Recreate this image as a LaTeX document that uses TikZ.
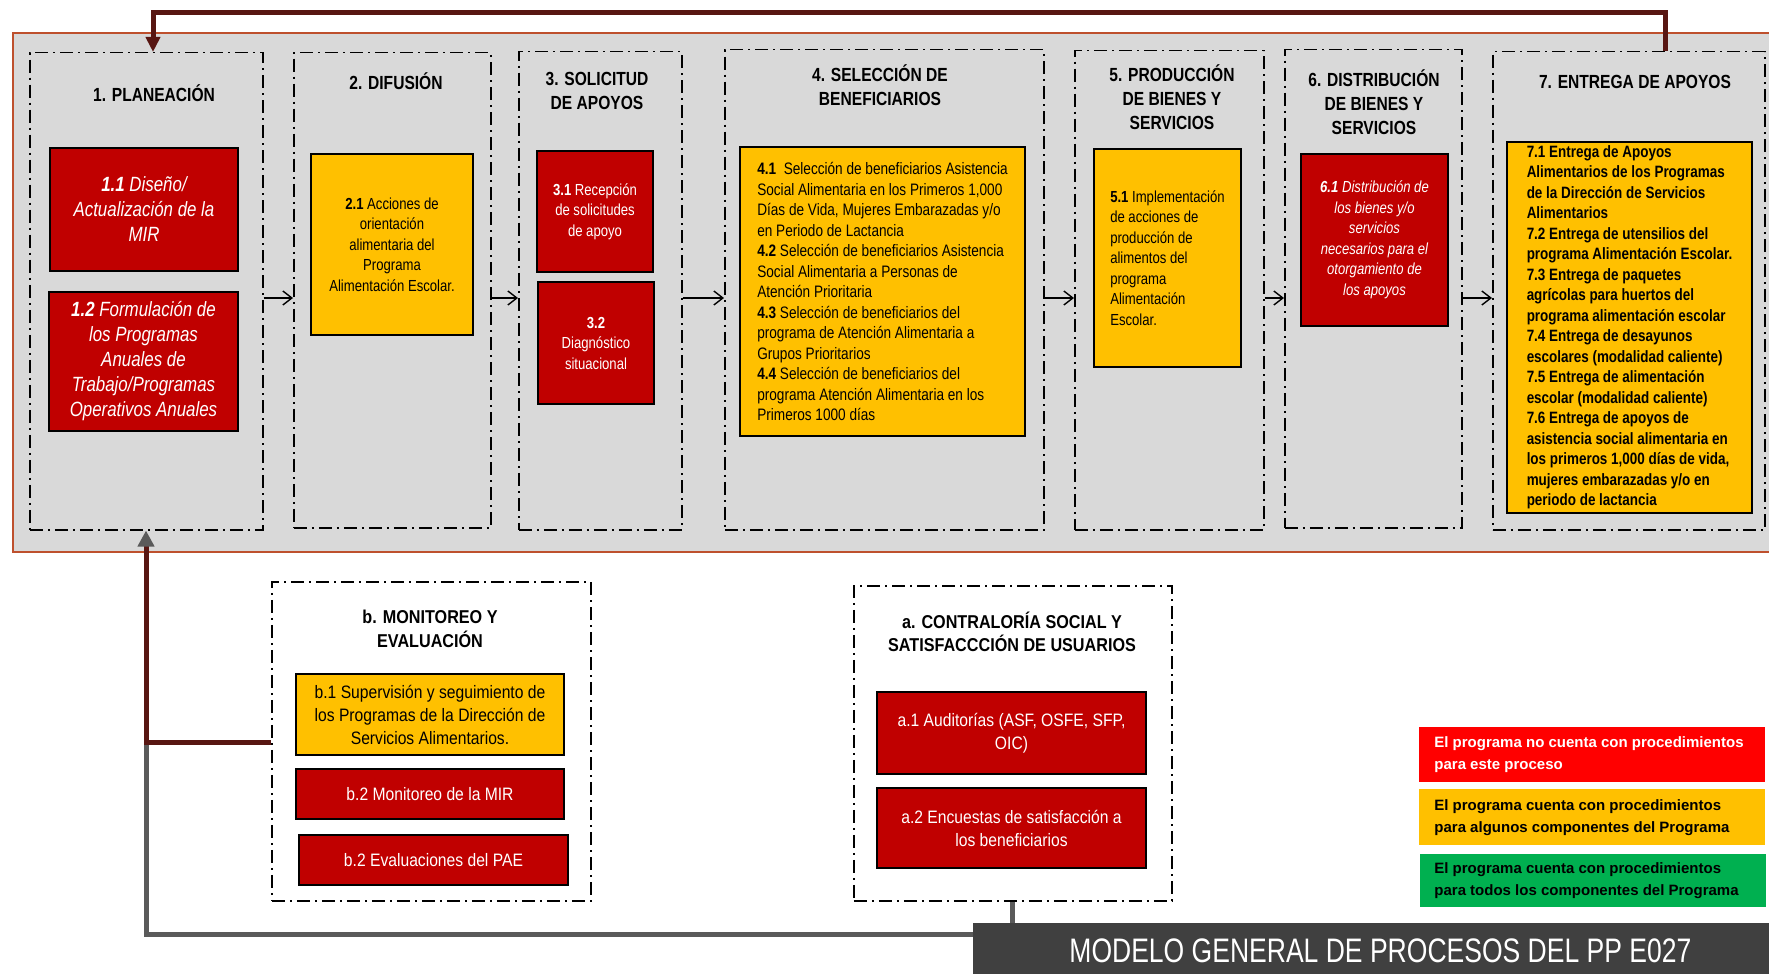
\documentclass[tikz,border=0pt]{standalone}
\usepackage{fontspec}
\setmainfont{Liberation Sans}
\newfontfamily\narrowfont[FakeStretch=0.82]{Liberation Sans}
\newfontfamily\lowfont[FakeStretch=0.87]{Liberation Sans}
\newfontfamily\barfont[FakeStretch=0.78]{Liberation Sans}
\usetikzlibrary{arrows.meta}
\definecolor{bandgrey}{HTML}{D9D9D9}
\definecolor{bandedge}{RGB}{190,80,45}
\definecolor{boxred}{HTML}{C00000}
\definecolor{boxyellow}{HTML}{FFC000}
\definecolor{legred}{HTML}{FF0000}
\definecolor{leggreen}{HTML}{00B050}
\definecolor{bardark}{HTML}{404040}
\definecolor{backred}{RGB}{88,22,18}
\definecolor{backgrey}{RGB}{90,90,90}

\begin{document}
\begin{tikzpicture}[x=0.5pt, y=-0.5pt]
    \tikzset{
        stage/.style={draw, line width=0.75pt, dash pattern=on 6.5pt off 2.5pt on 1pt off 2.5pt, anchor=north west, inner sep=0pt},
        stagetitle/.style={align=center, font=\narrowfont\bfseries\fontsize{9.5}{12}\selectfont},
        lowtitle/.style={align=center, font=\lowfont\bfseries\fontsize{9.3}{11.8}\selectfont},
        redbox/.style={draw, line width=1pt, fill=boxred, text=white, inner sep=0pt},
        yelbox/.style={draw, line width=1pt, fill=boxyellow, inner sep=0pt},
        body/.style={font=\narrowfont\fontsize{8}{10.25}\selectfont},
        bodyit/.style={font=\narrowfont\itshape\fontsize{8}{10.25}\selectfont},
        bodybf/.style={font=\narrowfont\bfseries\fontsize{8.2}{10.25}\selectfont},
        lowbody/.style={align=center, font=\lowfont\fontsize{9}{11.5}\selectfont},
        legbox/.style={anchor=north west, inner sep=0pt, minimum width=173pt},
        legtext/.style={anchor=west, align=left, inner sep=0pt, font=\bfseries\fontsize{7.5}{11.2}\selectfont},
        flow/.style={line width=0.7pt, -{Straight Barb[length=4.5pt, width=7pt]}},
        backline/.style={line width=2.5pt, color=backred},
    }
    \useasboundingbox (0,0) rectangle (1769,974);
    % franja de procesos
    \fill[bandgrey, draw=bandedge, line width=0.8pt] (13,33) rectangle (1790,552);

    % etapas
    \node[stage, minimum width=116.5pt, minimum height=238.5pt] (p1) at (29,52) {};
    \node[stage, minimum width=98.5pt, minimum height=237.5pt] (p2) at (293,52) {};
    \node[stage, minimum width=81.5pt, minimum height=239pt] (p3) at (518,51) {};
    \node[stage, minimum width=159.5pt, minimum height=240pt] (p4) at (724,49) {};
    \node[stage, minimum width=94.5pt, minimum height=239.5pt] (p5) at (1074,50) {};
    \node[stage, minimum width=88.5pt, minimum height=239pt] (p6) at (1284,49) {};
    \node[stage, minimum width=136pt, minimum height=239pt] (p7) at (1492,51) {};
    \node[stage, minimum width=159.5pt, minimum height=159.5pt] (pb) at (271,581) {};
    \node[stage, minimum width=159pt, minimum height=157.5pt] (pa) at (853,585) {};

    \node[stagetitle] (t1) at (154,93) {1. PLANEACIÓN};
    \node[stagetitle] (t2) at (396,81) {2. DIFUSIÓN};
    \node[stagetitle] (t3) at (597,91) {3. SOLICITUD\\DE APOYOS};
    \node[stagetitle] (t4) at (880,85) {4. SELECCIÓN DE\\BENEFICIARIOS};
    \node[stagetitle] (t5) at (1172,97) {5. PRODUCCIÓN\\DE BIENES Y\\SERVICIOS};
    \node[stagetitle] (t6) at (1374,102) {6. DISTRIBUCIÓN\\DE BIENES Y\\SERVICIOS};
    \node[stagetitle] (t7) at (1635,82) {7. ENTREGA DE APOYOS};
    \node[lowtitle] (tb) at (430,629) {b. MONITOREO Y\\EVALUACIÓN};
    \node[lowtitle] (ta) at (1012,632) {a. CONTRALORÍA SOCIAL Y\\SATISFACCCIÓN DE USUARIOS};

    % actividades
    \node[redbox, minimum width=94pt, minimum height=61.5pt, align=center, font=\narrowfont\itshape\fontsize{10.3}{12.5}\selectfont] (a11) at (144,209.5)
        {\textbf{1.1} Diseño/\\Actualización de la\\MIR};
    \node[redbox, minimum width=94.5pt, minimum height=69.5pt, align=center, font=\narrowfont\itshape\fontsize{10.3}{12.5}\selectfont] (a12) at (143.5,361.5)
        {\textbf{1.2} Formulación de\\los Programas\\Anuales de\\Trabajo/Programas\\Operativos Anuales};
    \node[yelbox, minimum width=81pt, minimum height=90.5pt, align=center, body] (d21) at (392,244.5)
        {\textbf{2.1} Acciones de\\orientación\\alimentaria del\\Programa\\Alimentación Escolar.};
    \node[redbox, minimum width=58pt, minimum height=60.5pt, align=center, body] (s31) at (595,211.5)
        {\textbf{3.1} Recepción\\de solicitudes\\de apoyo};
    \node[redbox, minimum width=58pt, minimum height=61pt, align=center, body] (s32) at (596,343)
        {\textbf{3.2}\\Diagnóstico\\situacional};
    \node[yelbox, minimum width=142.5pt, minimum height=144.5pt, align=left, font=\narrowfont\fontsize{8.3}{10.25}\selectfont] (b41) at (882.5,291.5)
        {\textbf{4.1}\ \ Selección de beneficiarios Asistencia\\Social Alimentaria en los Primeros 1,000\\Días de Vida, Mujeres Embarazadas y/o\\en Periodo de Lactancia\\
         \textbf{4.2} Selección de beneficiarios Asistencia\\Social Alimentaria a Personas de\\Atención Prioritaria\\
         \textbf{4.3} Selección de beneficiarios del\\programa de Atención Alimentaria a\\Grupos Prioritarios\\
         \textbf{4.4} Selección de beneficiarios del\\programa Atención Alimentaria en los\\Primeros 1000 días};
    \node[yelbox, minimum width=73.5pt, minimum height=109pt, align=left, body] (r51) at (1167.5,258)
        {\textbf{5.1} Implementación\\de acciones de\\producción de\\alimentos del\\programa\\Alimentación\\Escolar.};
    \node[redbox, minimum width=73.5pt, minimum height=86pt, align=center, bodyit] (d61) at (1374.5,240)
        {\textbf{6.1} Distribución de\\los bienes y/o\\servicios\\necesarios para el\\otorgamiento de\\los apoyos};
    \node[yelbox, minimum width=122.5pt, minimum height=185.5pt, align=left, bodybf] (e71) at (1629.5,327.5)
        {7.1 Entrega de Apoyos\\Alimentarios de los Programas\\de la Dirección de Servicios\\Alimentarios\\
         7.2 Entrega de utensilios del\\programa Alimentación Escolar.\\
         7.3 Entrega de paquetes\\agrícolas para huertos del\\programa alimentación escolar\\
         7.4 Entrega de desayunos\\escolares (modalidad caliente)\\
         7.5 Entrega de alimentación\\escolar (modalidad caliente)\\
         7.6 Entrega de apoyos de\\asistencia social alimentaria en\\los primeros 1,000 días de vida,\\mujeres embarazadas y/o en\\periodo de lactancia};

    \node[yelbox, minimum width=134pt, minimum height=40.5pt, lowbody] (mb1) at (430,714.5)
        {b.1 Supervisión y seguimiento de\\los Programas de la Dirección de\\Servicios Alimentarios.};
    \node[redbox, minimum width=134pt, minimum height=25pt, lowbody] (mb2) at (430,794) {b.2 Monitoreo de la MIR};
    \node[redbox, minimum width=134.5pt, minimum height=25pt, lowbody] (mb3) at (433.5,860) {b.2 Evaluaciones del PAE};
    \node[redbox, minimum width=134.5pt, minimum height=41pt, lowbody] (ca1) at (1011.5,733)
        {a.1 Auditorías (ASF, OSFE, SFP,\\OIC)};
    \node[redbox, minimum width=134.5pt, minimum height=40pt, lowbody] (ca2) at (1011.5,828)
        {a.2 Encuestas de satisfacción a\\los beneficiarios};

    % flechas entre etapas
    \coordinate (mid) at (0,298);
    \foreach \src/\dst in {p1/p2, p2/p3, p3/p4, p4/p5, p5/p6, p6/p7}
        \draw[flow] (\src.east |- mid) -- (\dst.west |- mid);

    % retornos
    \coordinate (up7) at (1665,13);
    \coordinate (up1) at (153,13);
    \draw[backline, -{Triangle[length=7.5pt, width=7pt]}] (p7.north -| up7) -- (up7) -- (up1) -- (p1.north -| up1);
    \coordinate (knee) at (146,742);
    \coordinate (low) at (146,934);
    \draw[line width=2.5pt, backgrey] (pa.south) -- (pa.south |- low) -- (low) -- (knee);
    \draw[backline, -{Triangle[length=8pt, width=8pt, color=backgrey]}] (pb.west |- knee) -- (knee) -- (p1.south -| knee);

    % simbologia
    \node[legbox, fill=legred, minimum height=27.5pt] (lr) at (1419,727) {};
    \node[legtext, text=white] (lrt) at ([xshift=7.5pt]lr.west) {El programa no cuenta con procedimientos\\para este proceso};
    \node[legbox, fill=boxyellow, minimum height=28pt] (ly) at (1419,789) {};
    \node[legtext] (lyt) at ([xshift=7.5pt]ly.west) {El programa cuenta con procedimientos\\para algunos componentes del Programa};
    \node[legbox, fill=leggreen, minimum height=26.5pt] (lg) at (1420,854) {};
    \node[legtext] (lgt) at ([xshift=7pt]lg.west) {El programa cuenta con procedimientos\\para todos los componentes del Programa};

    \node[fill=bardark, anchor=north west, minimum width=407pt, minimum height=27pt, inner sep=0pt, text=white, font=\barfont\fontsize{17}{20}\selectfont] (bar) at (973,923)
        {MODELO GENERAL DE PROCESOS DEL PP E027};
\end{tikzpicture}
\end{document}
